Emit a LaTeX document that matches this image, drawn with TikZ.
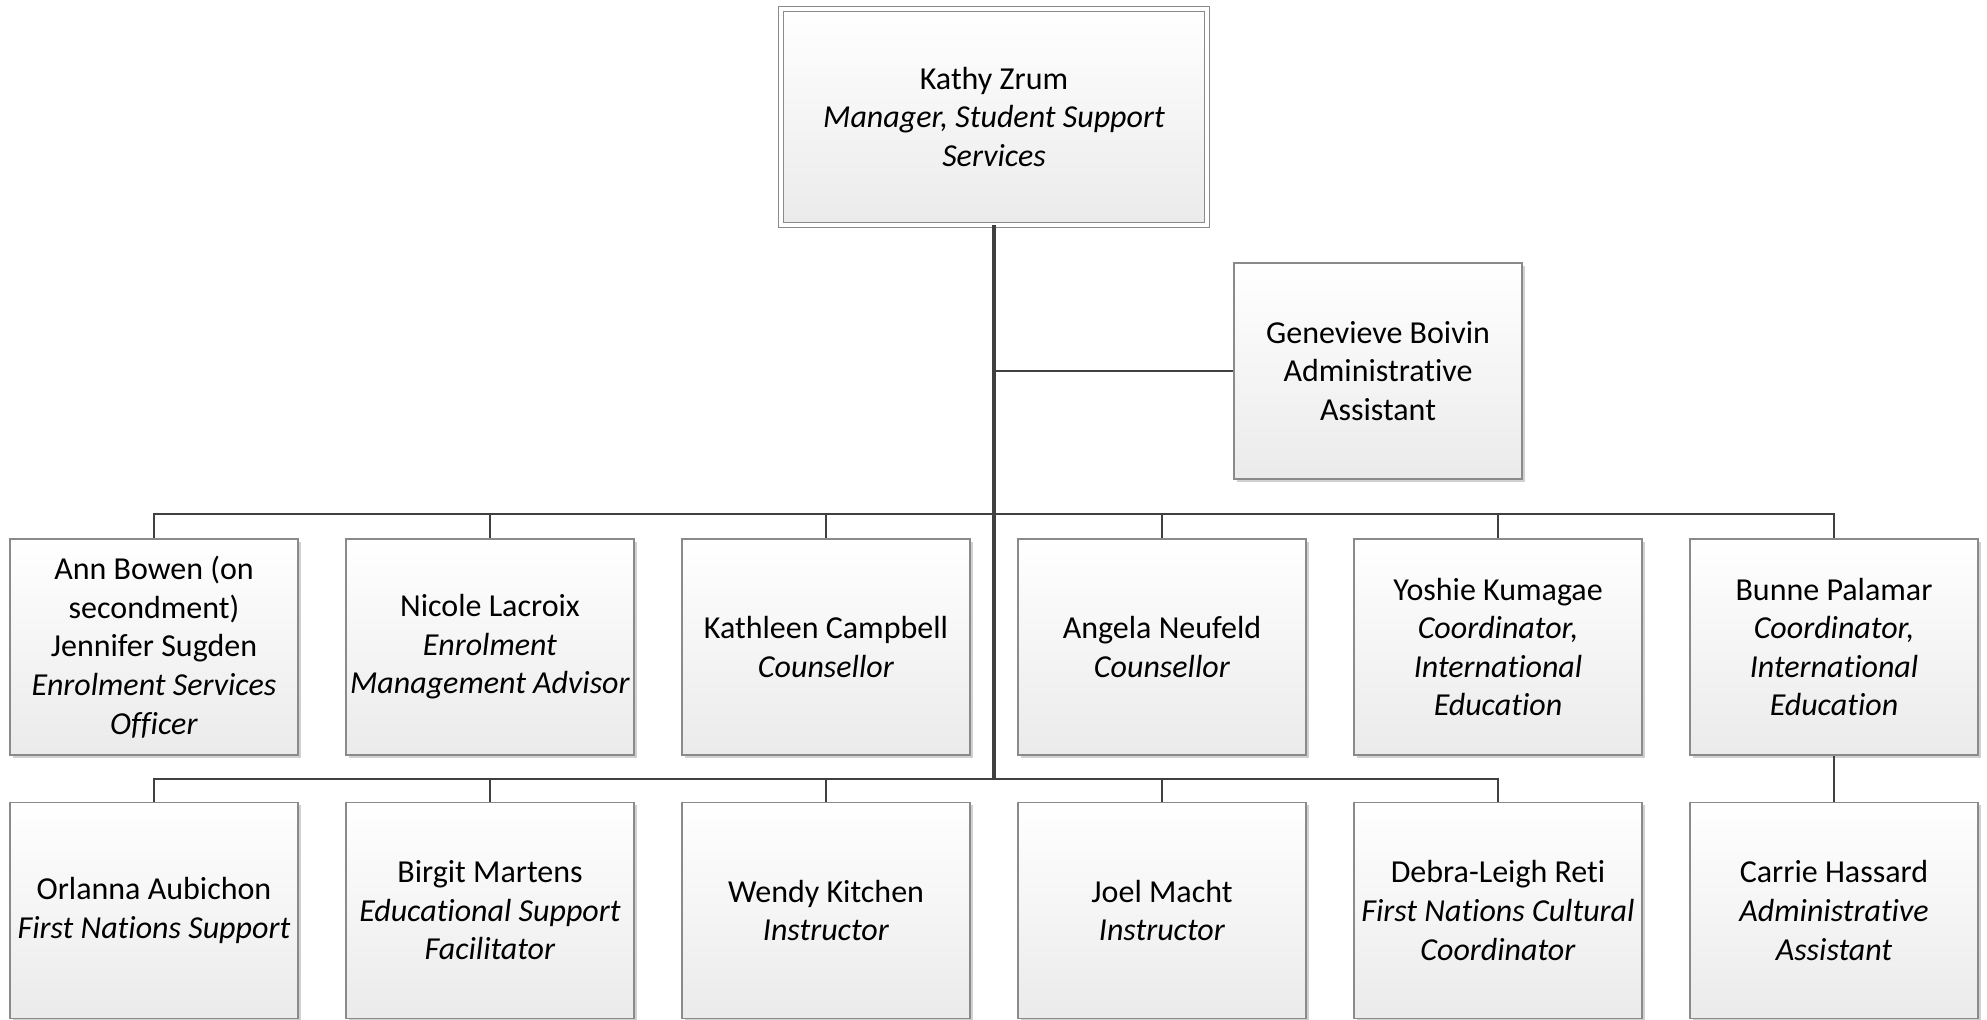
\documentclass[tikz,border=0pt]{standalone}
\usepackage{fontspec}
\setmainfont{Carlito}[Ligatures=NoCommon]
\usetikzlibrary{shadows}
\definecolor{conn}{HTML}{404040}
\definecolor{bord}{HTML}{8A8A8A}
\tikzset{
  pbox/.style={draw=bord, line width=0.6pt, top color=white, bottom color=black!8,
    minimum width=144pt, minimum height=108pt, align=center, inner sep=1pt,
    font=\fontsize{16pt}{19.3pt}\selectfont,
    drop shadow={shadow xshift=1.3pt, shadow yshift=-1.3pt, fill=black!30, opacity=0.6}},
  topbox/.style={pbox, minimum width=213pt, minimum height=108pt, line width=0.5pt,
    double=white, double distance=1.8pt},
  link/.style={draw=conn, line width=1.3pt},
  stem/.style={draw=conn, line width=2pt}
}
\begin{document}
\begin{tikzpicture}[x=0.5pt, y=-0.5pt]
\useasboundingbox (0,0) rectangle (1987,1020);
\node[topbox] (top) at (994,117) {Kathy Zrum\\\textit{Manager, Student Support}\\\textit{Services}};
\node[pbox] (gen) at (1378,371) {Genevieve Boivin\\Administrative\\Assistant};
\node[pbox] (b1) at (154,647) {Ann Bowen (on\\secondment)\\Jennifer Sugden\\\textit{Enrolment Services}\\\textit{Officer}};
\node[pbox] (b2) at (490,647) {Nicole Lacroix\\\textit{Enrolment}\\\textit{Management Advisor}};
\node[pbox] (b3) at (826,647) {Kathleen Campbell\\\textit{Counsellor}};
\node[pbox] (b4) at (1162,647) {Angela Neufeld\\\textit{Counsellor}};
\node[pbox] (b5) at (1498,647) {Yoshie Kumagae\\\textit{Coordinator,}\\\textit{International}\\\textit{Education}};
\node[pbox] (b6) at (1834,647) {Bunne Palamar\\\textit{Coordinator,}\\\textit{International}\\\textit{Education}};
\node[pbox] (c1) at (154,910.5) {Orlanna Aubichon\\\textit{First Nations Support}};
\node[pbox] (c2) at (490,910.5) {Birgit Martens\\\textit{Educational Support}\\\textit{Facilitator}};
\node[pbox] (c3) at (826,910.5) {Wendy Kitchen\\\textit{Instructor}};
\node[pbox] (c4) at (1162,910.5) {Joel Macht\\\textit{Instructor}};
\node[pbox] (c5) at (1498,910.5) {Debra-Leigh Reti\\\textit{First Nations Cultural}\\\textit{Coordinator}};
\node[pbox] (c6) at (1834,910.5) {Carrie Hassard\\\textit{Administrative}\\\textit{Assistant}};
\coordinate (jg) at (994,371);
\coordinate (j1) at (994,514);
\coordinate (j2) at (994,779);
\path[link] (jg) -- (gen.west);
\foreach \n in {b1,b2,b3,b4,b5,b6} \path[link] (j1) -| (\n.north);
\foreach \n in {c1,c2,c3,c4,c5} \path[link] (j2) -| (\n.north);
\path[link] (b6.south) -- (c6.north);
\path[stem] (top.south) -- (j2);
\end{tikzpicture}
\end{document}
